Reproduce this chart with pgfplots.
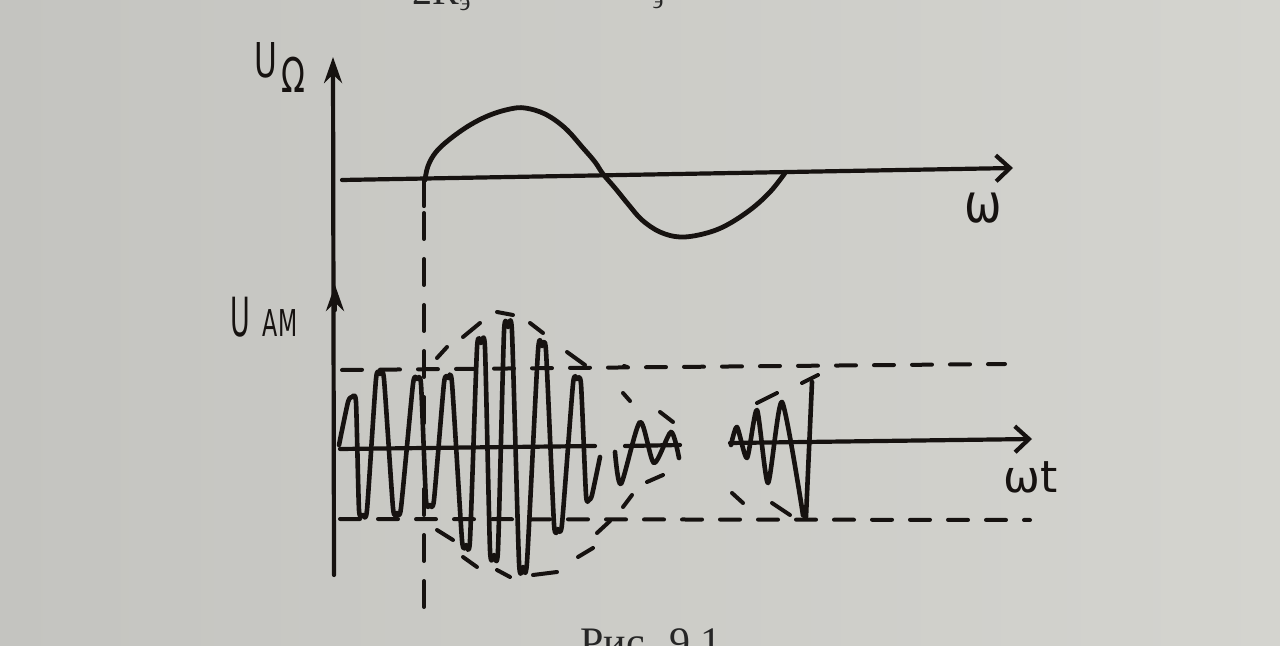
\documentclass[border=0pt]{standalone}
\usepackage{pgfplots}
\pgfplotsset{compat=1.18}
\usepackage{fontspec}
\setmainfont{Liberation Serif}
\newfontfamily\hand{DejaVu Sans}
\usetikzlibrary{arrows.meta}
\definecolor{paperL}{RGB}{196,196,192}
\definecolor{paperR}{RGB}{212,212,207}
\definecolor{ink}{RGB}{22,18,16}
\begin{document}
\begin{tikzpicture}
\path[use as bounding box] (0,0) rectangle (640pt,323pt);
\clip (0,0) rectangle (640pt,323pt);
\shade[left color=paperL,right color=paperR] (0,0) rectangle (640pt,323pt);
\begin{axis}[at={(0,0)},anchor=south west,scale only axis,
  width=640pt,height=323pt,xmin=0,xmax=1280,ymin=0,ymax=646,
  y dir=reverse,hide axis,clip=false,unbounded coords=jump,
  cycle list={{ink,mark=none}},
  every axis plot/.append style={ink,line width=2.1pt,mark=none,line cap=round,line join=round}]
% vertical axis (shared) with two arrow heads
\addplot[ink,-{Stealth[length=13pt,width=9pt]}] table {
334 575
333 57
};
\addplot[ink,-{Stealth[length=13pt,width=9pt]}] table {
335 310
335 285
};
% upper horizontal axis
\addplot[ink,-{Straight Barb[length=7pt,width=13pt]}] table {
342 180
1013 168
};
% U_Omega sine
\addplot[ink,smooth,tension=0.6,line width=2.4pt] table {
425 180
428 166
436 152
450 139
470 125
490 115
510 109
525 108
545 114
565 128
583 148
595 162
603 174
615 188
628 204
642 220
660 232
680 237
703 234
725 226
750 210
770 192
785 173
};
\addplot[ink] table {
424 180
424 206
};
% vertical dashed line
\addplot[ink,line width=2pt,dash pattern=on 13pt off 10pt] table {
424 213
424 613
};
% upper and lower dashed levels
\addplot[ink,line width=2pt,dash pattern=on 10pt off 9pt] table {
342 370
1005 364
};
\addplot[ink,line width=2pt,dash pattern=on 10pt off 9pt] table {
340 519
1030 520
};
% lower horizontal axis (omega t)
\addplot[ink] table {
340 449
595 446
};
\addplot[ink] table {
625 446
680 445
};
\addplot[ink,-{Straight Barb[length=7pt,width=13pt]}] table {
730 443
1032 439
};
% AM carrier, first burst
\addplot[ink,smooth,tension=0.35,line width=2.3pt] table {
339 445
348 402
352 397
356 402
359 510
363 515
367 510
376 379
380 374
384 379
393 508
397 513
401 508
413 384
417 379
421 384
426 500
430 505
434 500
444 383
448 378
452 383
462 540
466 545
470 540
477 348
481 343
485 348
490 550
494 555
498 550
504 332
508 327
512 332
519 562
523 567
527 562
538 351
542 346
546 351
554 524
558 529
562 524
573 384
577 379
581 384
586 495
589 500
592 495
600 457
};
% small middle piece
\addplot[ink,smooth,tension=0.45,line width=2.3pt] table {
615 452
621 484
640 422
654 463
671 432
679 458
};
% second burst
\addplot[ink,smooth,tension=0.4,line width=2.3pt] table {
731 445
737 427
747 458
757 410
768 483
782 402
803 515
};
\addplot[ink,line width=2.3pt] table {
803 515
806 517
812 382
};
% envelope dashes
\addplot[ink,line width=2pt] table {
437 358
447 347
nan nan
463 337
480 323
nan nan
497 312
513 315
nan nan
530 323
543 333
nan nan
567 352
585 365
nan nan
624 366
627 367
nan nan
623 393
630 401
nan nan
437 530
453 540
nan nan
463 557
477 567
nan nan
497 570
510 577
nan nan
533 575
557 572
nan nan
578 557
593 548
nan nan
597 533
610 521
nan nan
660 412
673 422
nan nan
647 482
663 475
nan nan
623 507
632 495
nan nan
757 403
777 393
nan nan
802 383
818 375
nan nan
732 493
743 503
nan nan
772 503
790 515
};
% labels
\node[ink,anchor=base,xscale=0.65,inner sep=0] at (axis cs:266,78) {\hand\fontsize{24}{24}\selectfont U};
\node[ink,anchor=base,xscale=0.65,inner sep=0] at (axis cs:293,93) {\hand\fontsize{24}{24}\selectfont Ω};
\node[ink,anchor=base,xscale=0.5,inner sep=0] at (axis cs:240,337) {\hand\fontsize{27}{27}\selectfont U};
\node[ink,anchor=base,xscale=0.6,inner sep=0] at (axis cs:280,337) {\hand\fontsize{18.5}{18.5}\selectfont АМ};
\node[ink,anchor=base,xscale=0.83,inner sep=0] at (axis cs:983,223) {\hand\fontsize{27}{27}\selectfont ω};
\node[ink,anchor=base west,inner sep=0] at (axis cs:1003,493) {\hand\fontsize{22}{22}\selectfont ωt};
% printed text (cut by the photo edges, as in the reference)
\node[anchor=base west,inner sep=0,text=black!85] at (axis cs:580,656) {\fontsize{21}{21}\selectfont Рис. 9.1};
\node[anchor=base west,inner sep=0,text=black!85] at (axis cs:412,5) {\fontsize{20}{20}\selectfont 2R};
\node[anchor=base west,inner sep=0,text=black!85] at (axis cs:459,11) {\fontsize{13}{13}\selectfont э};
\node[anchor=base west,inner sep=0,text=black!85] at (axis cs:652,9) {\fontsize{13}{13}\selectfont э};
\end{axis}
\end{tikzpicture}
\end{document}
